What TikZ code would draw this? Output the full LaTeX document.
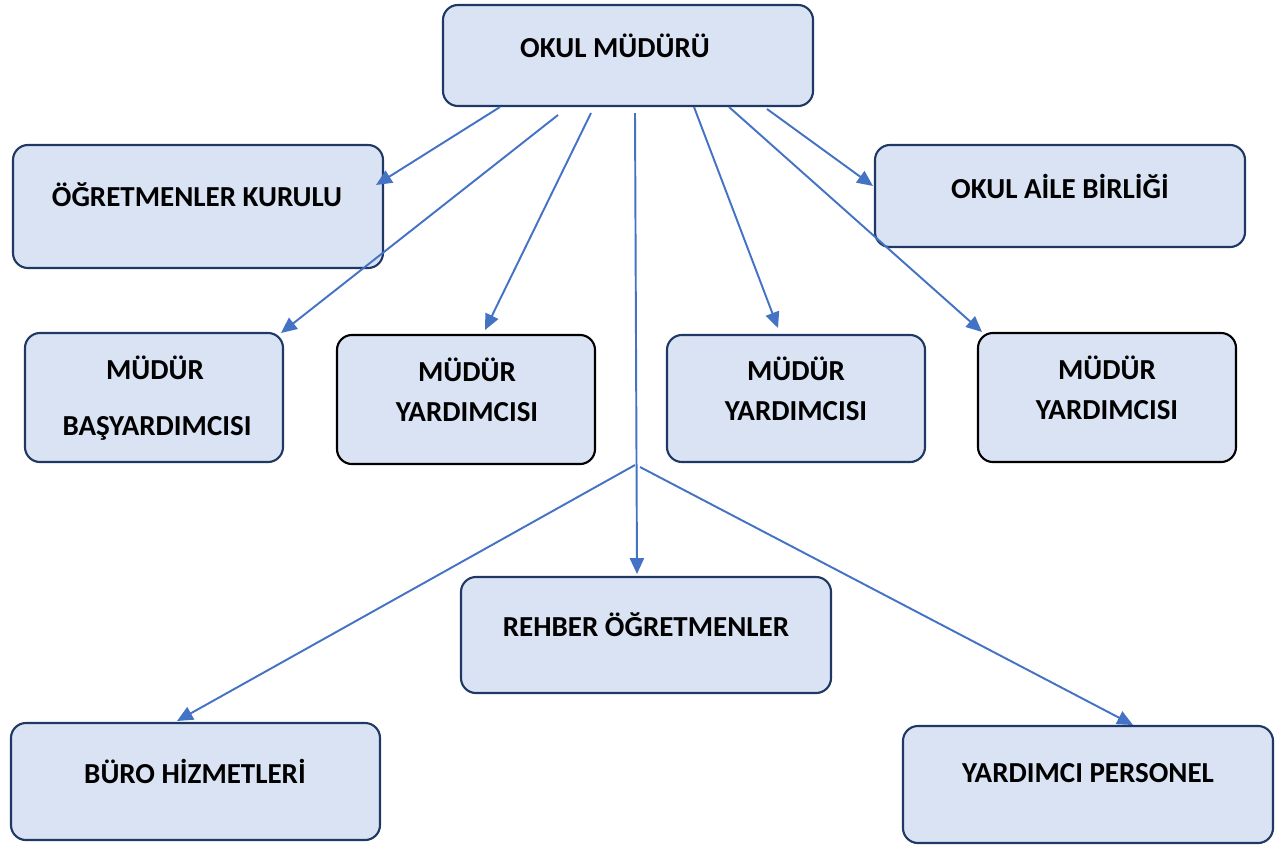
\documentclass[tikz,border=0pt]{standalone}
\usepackage{fontspec}
\setmainfont{Carlito}
\usepackage{tikz}
\usetikzlibrary{arrows.meta}

\definecolor{boxfill}{HTML}{DAE3F3}
\definecolor{boxline}{HTML}{1F3864}
\definecolor{arrowblue}{HTML}{4472C4}

\tikzset{
  box/.style={draw=boxline,fill=boxfill,line width=1.2pt,rounded corners=8.5pt,
    inner sep=0pt},
  darkbox/.style={box,draw=black},
  lbl/.style={font=\fontsize{16.5}{22.5}\selectfont\bfseries,align=center,
    inner sep=0pt},
  link/.style={arrowblue,line width=1.1pt,-{Triangle[length=9pt,width=8pt]}}
}

\begin{document}
\begin{tikzpicture}[x=0.02cm,y=-0.02cm]
  \useasboundingbox (0,0) rectangle (1284,846);
  % boxes
  \draw[box] (443,5) rectangle (813,106);
  \draw[box] (13,145) rectangle (383,268);
  \draw[box] (875,145) rectangle (1245,247);
  \draw[box] (25,333) rectangle (283,462);
  \draw[darkbox] (337,335) rectangle (595,464);
  \draw[box] (667,335) rectangle (925,462);
  \draw[darkbox] (978,333) rectangle (1236,462);
  \draw[box] (461,577) rectangle (831,693);
  \draw[box] (11,723) rectangle (380,840);
  \draw[box] (903,726) rectangle (1273,843);
  % texts
  \node[lbl] (mudur) at (615,46) {OKUL MÜDÜRÜ};
  \node[lbl] (kurul) at (197,195) {ÖĞRETMENLER KURULU};
  \node[lbl] (aile) at (1060,186) {OKUL AİLE BİRLİĞİ};
  \node[lbl] (bas) at (155,368) {MÜDÜR};
  \node[lbl] (bas2) at (157,428) {BAŞYARDIMCISI};
  \node[lbl] (yrd1) at (467,390) {MÜDÜR\\YARDIMCISI};
  \node[lbl] (yrd2) at (796,389) {MÜDÜR\\YARDIMCISI};
  \node[lbl] (yrd3) at (1107,388) {MÜDÜR\\YARDIMCISI};
  \node[lbl] (rehber) at (646,625) {REHBER ÖĞRETMENLER};
  \node[lbl] (buro) at (195,771) {BÜRO HİZMETLERİ};
  \node[lbl] (pers) at (1088,773) {YARDIMCI PERSONEL};
  % arrows
  \coordinate (s1) at (500,107);  \coordinate (e1) at (376,185);
  \coordinate (s2) at (558,115);  \coordinate (e2) at (281,333);
  \coordinate (s3) at (591,113);  \coordinate (e3) at (485,330);
  \coordinate (s4) at (635,113);  \coordinate (e4) at (637,574);
  \coordinate (s5) at (694,107);  \coordinate (e5) at (778,328);
  \coordinate (s6) at (729,107);  \coordinate (e6) at (982,332);
  \coordinate (s7) at (767,109);  \coordinate (e7) at (873,186);
  \coordinate (j1) at (635,465);  \coordinate (e8) at (177,721);
  \coordinate (j2) at (640,467);  \coordinate (e9) at (1133,725);
  \draw[link] (s1) -- (e1);
  \draw[link] (s2) -- (e2);
  \draw[link] (s3) -- (e3);
  \draw[link] (s4) -- (e4);
  \draw[link] (s5) -- (e5);
  \draw[link] (s6) -- (e6);
  \draw[link] (s7) -- (e7);
  \draw[link] (j1) -- (e8);
  \draw[link] (j2) -- (e9);
\end{tikzpicture}
\end{document}
